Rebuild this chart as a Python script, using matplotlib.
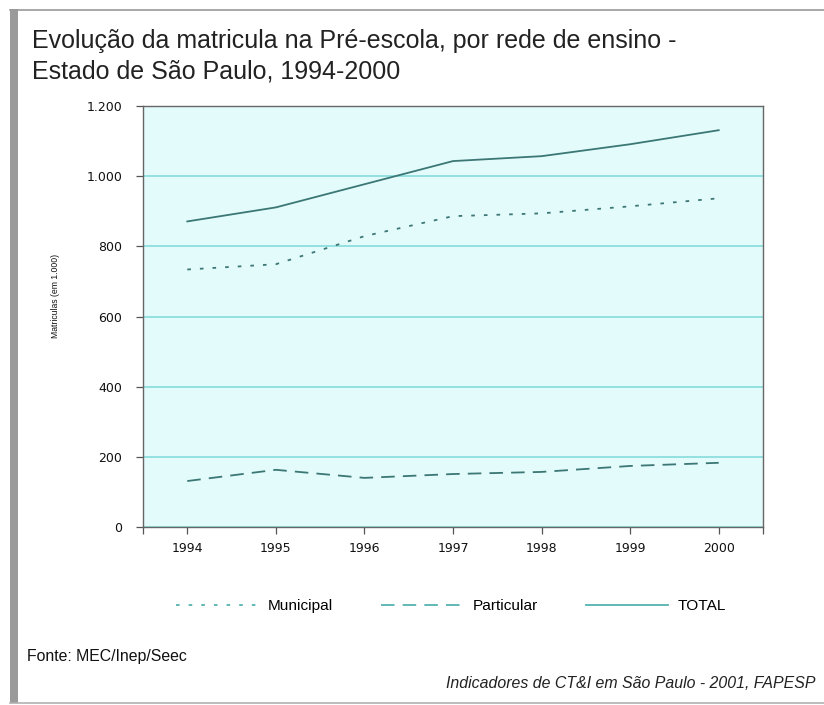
import matplotlib.pyplot as plt
from matplotlib import font_manager
from matplotlib.lines import Line2D
from matplotlib.ticker import FuncFormatter

# Matriculas na Pre-escola (em 1.000), Estado de Sao Paulo
anos = [1994, 1995, 1996, 1997, 1998, 1999, 2000]
municipal = [734, 749, 829, 886, 894, 914, 937]
particular = [131, 163, 140, 151, 157, 174, 183]
total = [871, 911, 977, 1043, 1057, 1091, 1131]
y_ticks = [0, 200, 400, 600, 800, 1000, 1200]

line_color = '#3b7775'
legend_color = '#55b3b0'
grid_color = '#86dcdc'
bg_color = '#e3fbfb'

plt.rcParams['font.family'] = ['Liberation Sans', 'DejaVu Sans']

# the small texts in the original are in a condensed face
try:
    font_manager.findfont('Liberation Sans Narrow', fallback_to_default=False)
    narrow, k = ['Liberation Sans Narrow', 'DejaVu Sans'], 1.0
except ValueError:
    narrow, k = ['Liberation Sans', 'DejaVu Sans'], 0.82

fig = plt.figure(figsize=(8.24, 7.05), dpi=100)
W, H = 824, 705

# frame of the original picture (gray bar on the left, thin lines top/bottom)
fig.add_artist(plt.Rectangle((10 / W, 1 - 703 / H), 8 / W, 694 / H,
                             transform=fig.transFigure, color='#9a9a9a', lw=0))
fig.add_artist(Line2D([10 / W, 1], [1 - 9.5 / H, 1 - 9.5 / H],
                      transform=fig.transFigure, color='#9a9a9a', lw=1.2))
fig.add_artist(Line2D([10 / W, 1], [1 - 703 / H, 1 - 703 / H],
                      transform=fig.transFigure, color='#b0b0b0', lw=1.2))

ax = fig.add_axes([143 / W, 1 - 527 / H, (763 - 143) / W, (527 - 106) / H])
ax.set_facecolor(bg_color)

ax.plot(anos, municipal, color=line_color, lw=1.3, linestyle=(0, (2, 5)))
ax.plot(anos, particular, color=line_color, lw=1.3, linestyle=(0, (7.5, 4.5)))
ax.plot(anos, total, color=line_color, lw=1.3, linestyle='-')

ax.set_xlim(1993.5, 2000.5)
ax.set_ylim(0, 1200)
ax.set_yticks(y_ticks)
ax.yaxis.set_major_formatter(FuncFormatter(lambda v, p: f'{int(v):,}'.replace(',', '.')))
ax.set_xticks(anos)
ax.set_xticks([1993.5, 2000.5], minor=True)
ax.tick_params(axis='both', which='both', direction='out', length=5, width=0.9,
               colors='#555555', labelcolor='#111111', labelsize=9)
ax.tick_params(axis='x', pad=6)
ax.tick_params(axis='y', pad=10)
for lab in ax.get_xticklabels() + ax.get_yticklabels():
    lab.set_family('DejaVu Sans')
for side in ['top', 'right', 'left', 'bottom']:
    ax.spines[side].set_color('#666666')
    ax.spines[side].set_linewidth(1.0)
ax.grid(axis='y', color=grid_color, lw=1.2)
ax.set_axisbelow(True)

fig.text(55 / W, 1 - 296 / H, 'Matriculas (em 1.000)', rotation=90, family=narrow,
         ha='center', va='center', fontsize=7.6 * k, color='#111111')

# title
fig.text(32 / W, 1 - 41 / H, 'Evolução da matricula na Pré-escola, por rede de ensino -',
         fontsize=18, color='#222222', va='center', ha='left')
fig.text(32 / W, 1 - 72 / H, 'Estado de São Paulo, 1994-2000',
         fontsize=18, color='#222222', va='center', ha='left')

# legend
handles = [
    Line2D([], [], color=legend_color, lw=1.3, linestyle=(0, (2, 5))),
    Line2D([], [], color=legend_color, lw=1.3, linestyle=(0, (7.5, 4.5))),
    Line2D([], [], color=legend_color, lw=1.3, linestyle='-'),
]
fig.legend(handles, ['Municipal', 'Particular', 'TOTAL'], loc='center',
           bbox_to_anchor=(451 / W, 1 - 606 / H), ncol=3, frameon=False,
           prop={'family': narrow, 'size': 13.5 * k},
           handlelength=82 / (13.5 * k * 1.389), handletextpad=10 / (13.5 * k * 1.389),
           columnspacing=48 / (13.5 * k * 1.389))

fig.text(27 / W, 1 - 656 / H, 'Fonte: MEC/Inep/Seec', family=narrow, fontsize=14 * k,
         color='#111111', va='center', ha='left')
fig.text(816 / W, 1 - 684 / H, 'Indicadores de CT&I em São Paulo - 2001, FAPESP',
         family=narrow, fontsize=14 * k, style='italic', color='#222222',
         va='center', ha='right')

fig.savefig('out.png', dpi=100, facecolor='white')
